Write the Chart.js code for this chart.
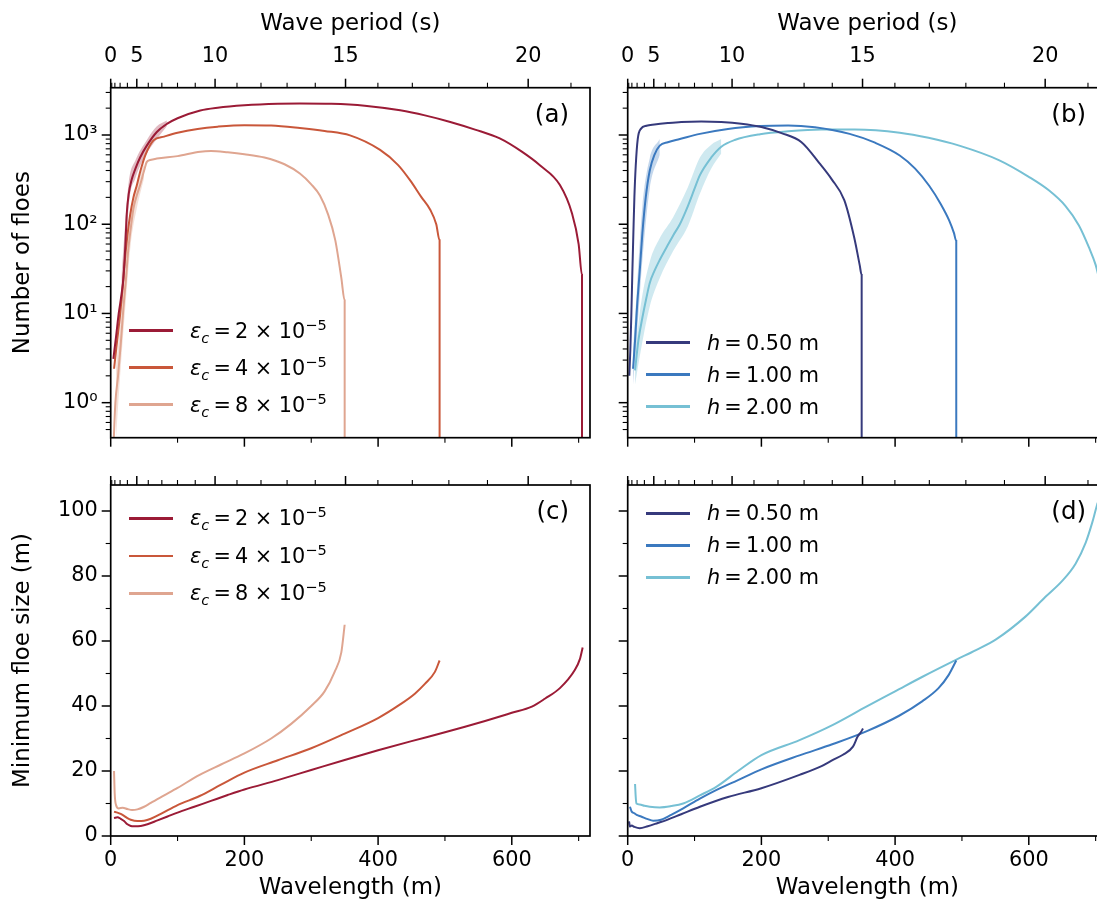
<!DOCTYPE html>
<html>
<head>
<meta charset="utf-8">
<script src="https://cdn.jsdelivr.net/npm/chart.js@4.4.1/dist/chart.umd.min.js"></script>
<style>
html, body { margin: 0; padding: 0; background: #fff; overflow: hidden; }
#fig { position: relative; width: 1097px; height: 915px; overflow: hidden; background: #fff; }
.panel { position: absolute; }
.legend { position: absolute; left: 0; top: 0; font: 20.8px "DejaVu Sans", sans-serif; color: #000; }
.legend .row { position: absolute; height: 40px; display: flex; align-items: center; white-space: nowrap; }
.legend .swatch { display: inline-block; width: 44px; height: 2.5px; margin-right: 17px; }
.legend sub, .legend sup { font-size: 70%; line-height: 0; }
</style>
</head>
<body>
<div id="fig">
  <canvas id="pa" class="panel" width="600" height="460" style="left:0;top:0"></canvas>
  <canvas id="pb" class="panel" width="560" height="460" style="left:560px;top:0"></canvas>
  <canvas id="pc" class="panel" width="600" height="455" style="left:0;top:460px"></canvas>
  <canvas id="pd" class="panel" width="560" height="455" style="left:560px;top:460px"></canvas>
  <div id="lega" class="legend"></div>
  <div id="legb" class="legend"></div>
  <div id="legc" class="legend"></div>
  <div id="legd" class="legend"></div>
</div>
<script>
// ---- data (wavelength in m) ----
// (a) number of floes, critical strain
const aEps2Len = [4, 8, 12, 16, 19, 22, 24, 27, 31, 37, 44, 54, 69, 84, 100, 134, 160, 200, 250, 283, 330, 380, 433, 470, 508, 545, 582, 615, 642, 672, 690, 700, 705, 705];
const aEps2N   = [3.1, 5.5, 10, 16, 25, 60, 130, 220, 310, 420, 560, 760, 1080, 1330, 1540, 1880, 2020, 2150, 2240, 2260, 2240, 2130, 1890, 1660, 1400, 1150, 915, 650, 458, 275, 133, 60, 27, 0.3];
const aEps4Len = [5, 9, 14, 18, 21, 25, 29, 34, 39, 44, 52, 64, 80, 100, 130, 160, 200, 240, 283, 320, 358, 403, 430, 448, 465, 478, 487, 492, 492];
const aEps4N   = [2.4, 4.5, 9.6, 20, 38, 75, 126, 200, 272, 386, 600, 870, 960, 1060, 1170, 1240, 1290, 1280, 1200, 1110, 990, 680, 460, 310, 200, 145, 100, 66, 0.3];
const aEps8Len = [4, 7, 11, 15, 19, 23, 26, 30, 34, 39, 44, 50, 54, 59, 69, 100, 134, 150, 175, 200, 230, 260, 283, 300, 313, 325, 336, 345, 350, 350];
const aEps8N   = [0.3, 1.0, 2.0, 4.5, 11.5, 25, 49, 90, 150, 210, 275, 400, 500, 525, 545, 580, 650, 660, 640, 610, 560, 470, 370, 280, 210, 130, 66, 25, 14, 0.3];
// spread between runs where it shows
const aEps2BandLen  = [16, 22, 27, 37, 54, 69, 84];
const aEps2BandLow  = [10, 35, 160, 330, 620, 900, 1250];
const aEps2BandHigh = [25, 110, 300, 520, 880, 1250, 1450];
const aEps8BandLen  = [8, 15, 23, 30, 39, 50];
const aEps8BandLow  = [0.4, 2.5, 15, 60, 150, 330];
const aEps8BandHigh = [2.5, 9, 45, 140, 280, 480];

// (b) number of floes, ice thickness
const bH050Len = [2.4, 4, 5.5, 7, 8.5, 10, 12, 15, 20, 28, 40, 60, 80, 110, 140, 170, 200, 230, 260, 287, 305, 324, 339, 347, 350, 350];
const bH050N   = [2.0, 4, 10, 30, 80, 200, 450, 900, 1180, 1270, 1310, 1360, 1400, 1420, 1400, 1340, 1230, 1050, 830, 480, 320, 186, 70, 35, 27, 0.3];
const bH100Len = [8, 11, 14, 18, 22, 27, 33, 40, 48, 60, 78, 108, 150, 198, 240, 280, 332, 370, 407, 430, 451, 468, 481, 488, 491.5, 491.5];
const bH100N   = [2.4, 5, 12, 30, 80, 200, 400, 600, 760, 830, 900, 1030, 1170, 1260, 1280, 1220, 1030, 820, 590, 420, 270, 170, 110, 80, 65, 0.3];
const bH200Len = [11, 16, 22, 28, 33, 40, 48, 58, 68, 78, 90, 100, 108, 125, 140, 160, 198, 240, 290, 340, 407, 450, 496, 556, 600, 630, 655, 675, 690, 700, 705];
const bH200N   = [2.3, 5, 9, 15, 22, 30, 40, 55, 75, 100, 160, 250, 355, 560, 740, 880, 1020, 1100, 1150, 1150, 1060, 930, 760, 520, 340, 240, 160, 97, 55, 35, 25];
const bH100BandLen  = [8, 14, 22, 33, 48];
const bH100BandLow  = [1.6, 6, 40, 250, 600];
const bH100BandHigh = [4, 20, 160, 550, 900];
const bH200BandLen  = [11, 20, 33, 48, 68, 90, 108, 125, 140];
const bH200BandLow  = [1.6, 4, 12, 25, 50, 95, 220, 420, 620];
const bH200BandHigh = [3.5, 13, 38, 70, 120, 260, 560, 780, 900];

// (c) minimum floe size, critical strain
const cEps2Len = [5, 10, 15, 20, 25, 30, 35, 45, 55, 70, 85, 100, 125, 150, 175, 200, 250, 300, 350, 400, 450, 500, 530, 560, 600, 630, 650, 672, 694, 702, 706];
const cEps2Min = [5.5, 5.8, 5.3, 4.6, 3.6, 3.1, 3.0, 3.1, 3.6, 4.8, 6.0, 7.2, 9.0, 10.8, 12.6, 14.3, 17.2, 20.3, 23.4, 26.4, 29.2, 31.9, 33.6, 35.4, 37.9, 39.8, 42.3, 45.5, 51, 54.5, 58];
const cEps4Len = [5, 10, 15, 20, 25, 30, 40, 50, 60, 75, 100, 133, 165, 200, 250, 300, 350, 400, 433, 455, 470, 485, 492];
const cEps4Min = [7.5, 7.2, 6.8, 6.2, 5.5, 5.0, 4.6, 4.7, 5.3, 6.8, 9.5, 12.3, 15.8, 19.5, 23.3, 27.0, 31.5, 36.3, 40.5, 43.8, 46.8, 50.5, 54];
const cEps8Len = [5, 6, 8, 12, 18, 25, 32, 40, 50, 60, 80, 100, 133, 165, 200, 240, 270, 300, 320, 335, 345, 350];
const cEps8Min = [20, 13, 9.5, 8.5, 8.7, 8.3, 8.0, 8.2, 9.0, 10.2, 12.5, 14.8, 18.8, 22.0, 25.4, 30.0, 34.5, 40.0, 44.5, 50.5, 56.5, 65];

// (d) minimum floe size, ice thickness
const dH050Len = [2, 3.4, 6, 10, 18, 30, 45, 58, 80, 108, 150, 200, 257, 290, 307, 322, 337, 344, 349, 352];
const dH050Min = [4.5, 2.9, 3.2, 2.8, 2.4, 3.0, 4.0, 4.9, 6.7, 9.0, 12.0, 14.7, 18.8, 21.5, 23.4, 25.0, 27.5, 30.6, 32.0, 33.1];
const dH100Len = [3.4, 6, 10, 13.4, 20, 30, 38, 50, 65, 83, 108, 133, 165, 200, 257, 307, 357, 406, 441, 465, 480, 491.5];
const dH100Min = [9, 7.5, 7.0, 6.5, 6.0, 5.2, 4.7, 5.0, 6.5, 8.5, 11.5, 14.2, 17.2, 20.5, 24.8, 28.3, 32.2, 37.0, 41.5, 45.5, 49.5, 54];
const dH200Len = [11, 12, 13, 18, 25, 33, 48, 65, 83, 108, 133, 165, 200, 257, 307, 357, 400, 441, 491, 521, 551, 595, 625, 650, 670, 685, 695, 700, 703];
const dH200Min = [16, 12, 10, 9.7, 9.3, 9, 8.8, 9.2, 10, 12.5, 15.2, 20, 24.9, 29.5, 34.2, 39.8, 44.5, 49, 54.2, 57.2, 60.5, 67.5, 73.6, 78.5, 83.8, 90.2, 96.5, 100.3, 102.5];

// legend entries
const epsValues = ['2', '4', '8'];
const thickValues = ['0.50', '1.00', '2.00'];

// ticks
const waveTicks = [0, 200, 400, 600];
const waveMinorTicks = [100, 300, 500, 700];
const periodTicks = [0, 5, 10, 15, 20];
const periodMinorTicks = [1, 2, 3, 4, 6, 7, 8, 9, 11, 12, 13, 14, 16, 17, 18, 19, 21];
const floeTicks = [1, 10, 100, 1000];
const floeTickLabels = ['10⁰', '10¹', '10²', '10³'];
const sizeTicks = [0, 20, 40, 60, 80, 100];
const sizeMinorTicks = [10, 30, 50, 70, 90];

const epsColors = ['#9b1b36', '#c9573a', '#dfa590'];
const epsBands = ['rgba(155,27,54,0.3)', 'rgba(201,87,58,0.3)', 'rgba(223,165,144,0.35)'];
const thickColors = ['#363a7c', '#3b79bf', '#76c0d4'];
const thickBands = ['rgba(54,58,124,0.3)', 'rgba(59,121,191,0.3)', 'rgba(118,192,212,0.35)'];

const X_MAX = 717;
const MAJOR = 9, MINOR = 5;
const FONT = "'DejaVu Sans', sans-serif";
const TICK_FONT = { family: FONT, size: 20.8 };
const LABEL_FONT = { family: FONT, size: 22.9 };

// deep water dispersion: wavelength of a period
const periodToLength = T => 9.81 * T * T / (2 * Math.PI);

function logMinorTicks(min, max) {
  let out = [];
  for (let k = -1; k <= 3; k++)
    for (let m = 2; m <= 9; m++) {
      const v = m * Math.pow(10, k);
      if (v >= min && v <= max) out.push(v);
    }
  return out;
}

const axesFrame = {
  id: 'axesFrame',
  afterDraw(chart, args, opts) {
    const { ctx, chartArea: a, scales } = chart;
    ctx.save();
    ctx.strokeStyle = '#000';
    const line = (x1, y1, x2, y2, w) => {
      ctx.lineWidth = w;
      ctx.beginPath(); ctx.moveTo(x1, y1); ctx.lineTo(x2, y2); ctx.stroke();
    };
    waveTicks.forEach(v => { const x = scales.x.getPixelForValue(v); line(x, a.bottom, x, a.bottom + MAJOR, 1.5); });
    waveMinorTicks.forEach(v => { const x = scales.x.getPixelForValue(v); line(x, a.bottom, x, a.bottom + MINOR, 1.1); });
    periodTicks.forEach(T => { const x = scales.x.getPixelForValue(periodToLength(T)); line(x, a.top, x, a.top - MAJOR, 1.5); });
    periodMinorTicks.forEach(T => { const x = scales.x.getPixelForValue(periodToLength(T)); line(x, a.top, x, a.top - MINOR, 1.1); });
    const y = scales.y;
    opts.yMajor.forEach(v => { const p = y.getPixelForValue(v); line(a.left, p, a.left - MAJOR, p, 1.5); });
    opts.yMinor.forEach(v => { const p = y.getPixelForValue(v); line(a.left, p, a.left - MINOR, p, 1.1); });
    ctx.lineWidth = 1.7;
    ctx.strokeRect(a.left, a.top, a.right - a.left, a.bottom - a.top);
    ctx.fillStyle = '#000';
    ctx.font = '24.5px ' + FONT;
    ctx.textAlign = 'right';
    ctx.textBaseline = 'middle';
    ctx.fillText(opts.tag, a.right - 21, a.top + 28);
    ctx.restore();
  }
};

const htmlLegend = {
  id: 'htmlLegend',
  afterRender(chart, args, opts) {
    const box = document.getElementById(opts.containerID);
    if (box.dataset.done) return;
    box.dataset.done = '1';
    const a = chart.chartArea;
    chart.data.datasets.filter(ds => !ds.band).forEach((ds, i) => {
      const row = document.createElement('div');
      row.className = 'row';
      row.style.left = (chart.canvas.offsetLeft + a.left + opts.dx) + 'px';
      row.style.top = (chart.canvas.offsetTop + a.top + opts.dy + i * opts.gap - 20) + 'px';
      const sw = document.createElement('span');
      sw.className = 'swatch';
      sw.style.background = ds.borderColor;
      const tx = document.createElement('span');
      tx.innerHTML = opts.items[i];
      row.append(sw, tx);
      box.appendChild(row);
    });
  }
};

function series(xs, ys, color, label) {
  return {
    label: label,
    data: xs.map((x, i) => ({ x: x, y: ys[i] })),
    showLine: true, borderColor: color, backgroundColor: color,
    borderWidth: 2, pointRadius: 0, pointHoverRadius: 0,
    cubicInterpolationMode: 'monotone', fill: false, order: 0
  };
}

function band(xs, lo, hi, color) {
  const base = { showLine: true, borderWidth: 0, borderColor: 'rgba(0,0,0,0)', pointRadius: 0,
                 pointHoverRadius: 0, cubicInterpolationMode: 'monotone', band: true, order: 5 };
  return [
    Object.assign({}, base, { label: 'band low', data: xs.map((x, i) => ({ x: x, y: lo[i] })), fill: false }),
    Object.assign({}, base, { label: 'band high', data: xs.map((x, i) => ({ x: x, y: hi[i] })), fill: '-1', backgroundColor: color })
  ];
}

function makePanel(id, p) {
  const hidden = 'rgba(0,0,0,0)';
  const gridOpts = { display: true, drawOnChartArea: false, drawTicks: true, tickLength: MAJOR, color: hidden };
  return new Chart(document.getElementById(id), {
    type: 'scatter',
    data: { datasets: p.datasets },
    options: {
      responsive: false, animation: false, devicePixelRatio: 1,
      layout: { padding: { left: 0, top: 0, bottom: 0, right: p.padRight } },
      scales: {
        x: {
          type: 'linear', position: 'bottom', min: 0, max: X_MAX,
          afterBuildTicks: s => { s.ticks = waveTicks.map(v => ({ value: v })); },
          afterFit: s => { s.height = p.bottomH; },
          grid: gridOpts, border: { display: false },
          ticks: { display: p.bottomLabels, autoSkip: false, maxRotation: 0, padding: 3, color: '#000', font: TICK_FONT },
          title: { display: p.bottomLabels, text: 'Wavelength (m)', color: '#000', font: LABEL_FONT, padding: { top: 0, bottom: 13 } }
        },
        xTop: {
          type: 'linear', position: 'top', min: 0, max: X_MAX,
          afterBuildTicks: s => { s.ticks = periodTicks.map(T => ({ value: periodToLength(T) })); },
          afterFit: s => { s.height = p.topH; },
          grid: gridOpts, border: { display: false },
          ticks: { display: p.topLabels, autoSkip: false, maxRotation: 0, padding: 10, color: '#000', font: TICK_FONT,
                   callback: (v, i) => String(periodTicks[i]) },
          title: { display: p.topLabels, text: 'Wave period (s)', color: '#000', font: LABEL_FONT, padding: { top: 10, bottom: 0 } }
        },
        y: {
          type: p.yType, position: 'left', min: p.yMin, max: p.yMax,
          afterBuildTicks: s => { s.ticks = p.yMajor.map(v => ({ value: v })); },
          afterFit: s => { s.width = p.leftW; },
          grid: gridOpts, border: { display: false },
          ticks: { display: p.leftLabels, autoSkip: false, padding: 4, color: '#000', font: TICK_FONT,
                   callback: (v, i) => p.yLabels ? p.yLabels[i] : String(v) },
          title: { display: p.leftLabels, text: p.yTitle, color: '#000', font: LABEL_FONT, padding: { top: 9, bottom: 0 } }
        }
      },
      plugins: {
        legend: { display: false },
        tooltip: { enabled: false },
        axesFrame: { tag: p.tag, yMajor: p.yMajor, yMinor: p.yMinor },
        htmlLegend: p.legend
      }
    },
    plugins: [axesFrame, htmlLegend]
  });
}

const epsHtml = epsValues.map(v => '<i>ε</i><sub><i>c</i></sub>\u2009=\u2009' + v + ' × 10<sup>−5</sup>');
const thickHtml = thickValues.map(v => '<i>h</i>\u2009=\u2009' + v + ' m');
const epsText = epsValues.map(v => 'εc = ' + v + ' × 10⁻⁵');
const thickText = thickValues.map(v => 'h = ' + v + ' m');

const LOG_MIN = 0.405, LOG_MAX = 3390;
const topRow = { topH: 87.7, bottomH: 22.3, topLabels: true, bottomLabels: false,
  yType: 'logarithmic', yMin: LOG_MIN, yMax: LOG_MAX, yMajor: floeTicks, yLabels: floeTickLabels,
  yMinor: logMinorTicks(LOG_MIN, LOG_MAX), yTitle: 'Number of floes' };
const bottomRow = { topH: 25, bottomH: 79, topLabels: false, bottomLabels: true,
  yType: 'linear', yMin: 0, yMax: 108, yMajor: sizeTicks, yLabels: null,
  yMinor: sizeMinorTicks, yTitle: 'Minimum floe size (m)' };

makePanel('pa', Object.assign({}, topRow, {
  leftW: 110.7, padRight: 10, leftLabels: true, tag: '(a)',
  datasets: [
    series(aEps2Len, aEps2N, epsColors[0], epsText[0]),
    series(aEps4Len, aEps4N, epsColors[1], epsText[1]),
    series(aEps8Len, aEps8N, epsColors[2], epsText[2]),
    ...band(aEps2BandLen, aEps2BandLow, aEps2BandHigh, epsBands[0]),
    ...band(aEps8BandLen, aEps8BandLow, aEps8BandHigh, epsBands[2])
  ],
  legend: { containerID: 'lega', dx: 18.3, dy: 243, gap: 37, items: epsHtml }
}));
makePanel('pb', Object.assign({}, topRow, {
  leftW: 67.7, padRight: 13, leftLabels: false, tag: '(b)',
  datasets: [
    series(bH050Len, bH050N, thickColors[0], thickText[0]),
    series(bH100Len, bH100N, thickColors[1], thickText[1]),
    series(bH200Len, bH200N, thickColors[2], thickText[2]),
    ...band(bH100BandLen, bH100BandLow, bH100BandHigh, thickBands[1]),
    ...band(bH200BandLen, bH200BandLow, bH200BandHigh, thickBands[2])
  ],
  legend: { containerID: 'legb', dx: 18.3, dy: 255, gap: 32, items: thickHtml }
}));
makePanel('pc', Object.assign({}, bottomRow, {
  leftW: 110.7, padRight: 10, leftLabels: true, tag: '(c)',
  datasets: [
    series(cEps2Len, cEps2Min, epsColors[0], epsText[0]),
    series(cEps4Len, cEps4Min, epsColors[1], epsText[1]),
    series(cEps8Len, cEps8Min, epsColors[2], epsText[2])
  ],
  legend: { containerID: 'legc', dx: 18.3, dy: 33.3, gap: 37.5, items: epsHtml }
}));
makePanel('pd', Object.assign({}, bottomRow, {
  leftW: 67.7, padRight: 13, leftLabels: false, tag: '(d)',
  datasets: [
    series(dH050Len, dH050Min, thickColors[0], thickText[0]),
    series(dH100Len, dH100Min, thickColors[1], thickText[1]),
    series(dH200Len, dH200Min, thickColors[2], thickText[2])
  ],
  legend: { containerID: 'legd', dx: 18.3, dy: 28.3, gap: 32, items: thickHtml }
}));
</script>
</body>
</html>
